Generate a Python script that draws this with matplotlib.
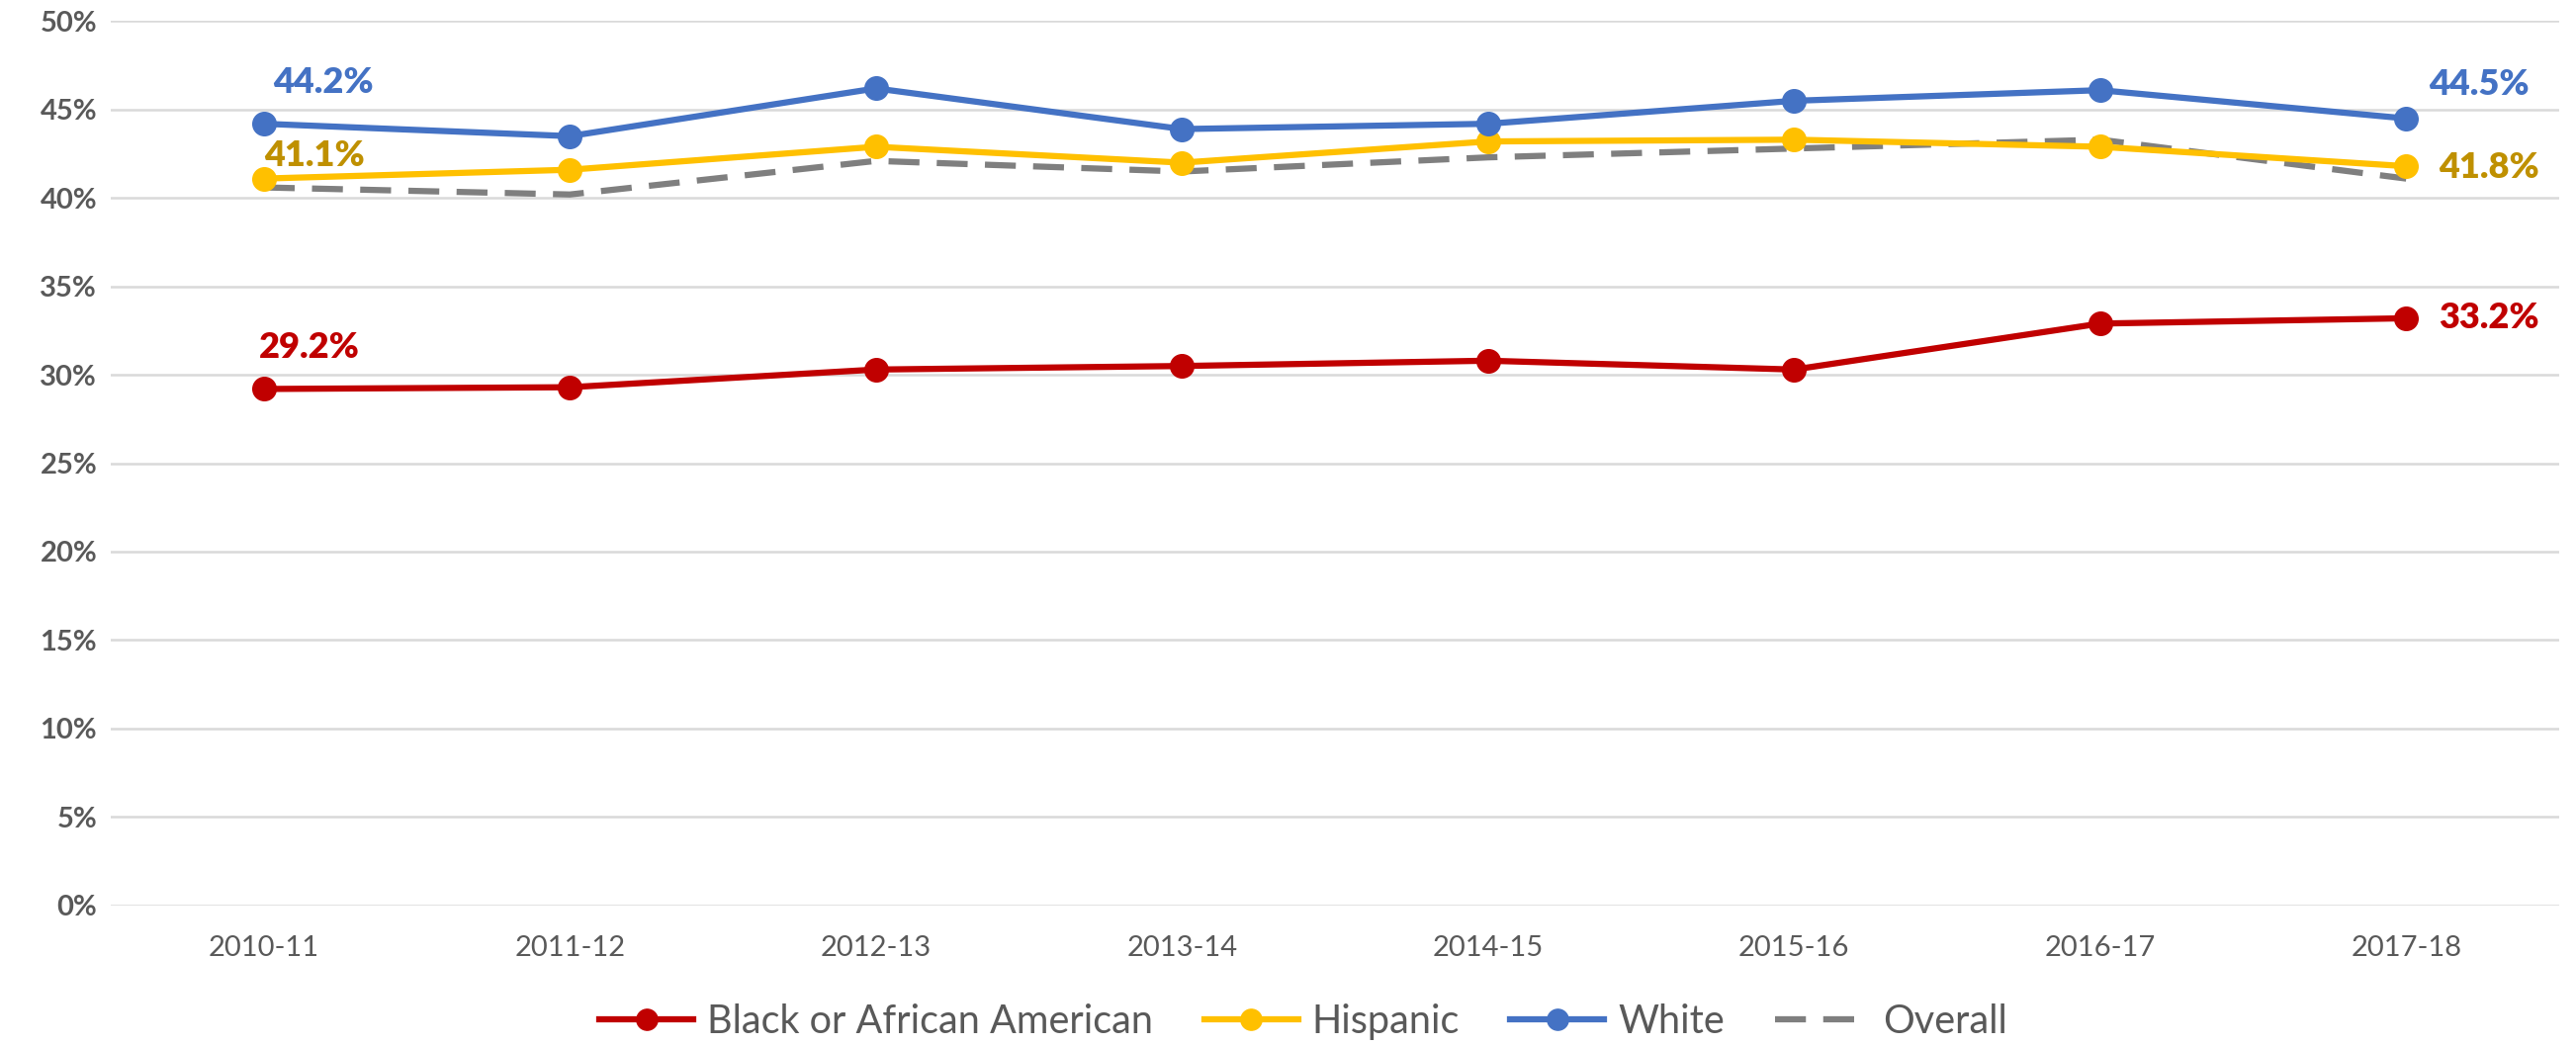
import matplotlib.pyplot as plt
from matplotlib.ticker import PercentFormatter

plt.rcParams['font.family'] = ['Lato', 'DejaVu Sans']

# School years and rates (%) per group
years = ['2010-11', '2011-12', '2012-13', '2013-14', '2014-15', '2015-16', '2016-17', '2017-18']
black = [29.2, 29.3, 30.3, 30.5, 30.8, 30.3, 32.9, 33.2]
hispanic = [41.1, 41.6, 42.9, 42.0, 43.2, 43.3, 42.9, 41.8]
white = [44.2, 43.5, 46.2, 43.9, 44.2, 45.5, 46.1, 44.5]
overall = [40.6, 40.2, 42.1, 41.5, 42.3, 42.8, 43.3, 41.1]

red = '#C00000'
gold = '#FFC000'
blue = '#4472C4'
gray = '#7F7F7F'

fig = plt.figure(figsize=(26.05, 10.57), dpi=100)
ax = fig.add_axes([0.043, 0.1337, 0.9505, 0.846])

x = range(len(years))
ax.plot(x, overall, color=gray, lw=4.5, dashes=(5, 2.8), label='Overall', zorder=2)
ax.plot(x, black, color=red, lw=4.5, marker='o', ms=17, label='Black or African American', zorder=3)
ax.plot(x, hispanic, color=gold, lw=4.5, marker='o', ms=17, label='Hispanic', zorder=3)
ax.plot(x, white, color=blue, lw=4.5, marker='o', ms=17, label='White', zorder=4)

# Data labels at the first and last year
lab = dict(textcoords='offset points', ha='center', va='center', fontsize=26, fontweight='heavy')
ax.annotate(f'{white[0]}%', (0, white[0]), xytext=(43, 30), color=blue, **lab)
ax.annotate(f'{hispanic[0]}%', (0, hispanic[0]), xytext=(37, 17), color='#BF9000', **lab)
ax.annotate(f'{black[0]}%', (0, black[0]), xytext=(33, 30), color=red, **lab)
ax.annotate(f'{white[-1]}%', (7, white[-1]), xytext=(53, 25), color=blue, **lab)
ax.annotate(f'{hispanic[-1]}%', (7, hispanic[-1]), xytext=(60, -1), color='#BF9000', **lab)
ax.annotate(f'{black[-1]}%', (7, black[-1]), xytext=(60, 0), color=red, **lab)

ax.set_xlim(-0.5, 7.5)
ax.set_ylim(0, 50)
ax.set_yticks(range(0, 51, 5))
ax.yaxis.set_major_formatter(PercentFormatter(decimals=0))
ax.set_xticks(list(x))
ax.set_xticklabels(years)
ax.grid(axis='y', color='#D9D9D9', lw=1.8)
ax.set_axisbelow(True)
for s in ax.spines.values():
    s.set_visible(False)
ax.tick_params(length=0, colors='#595959', labelsize=21)
ax.tick_params(axis='x', pad=22)
ax.tick_params(axis='y', pad=10)
for t in ax.get_yticklabels():
    t.set_fontweight('bold')

h, l = ax.get_legend_handles_labels()
order = [1, 2, 3, 0]
fig.legend([h[i] for i in order], [l[i] for i in order], loc='center', bbox_to_anchor=(0.506, 0.022),
           ncol=4, frameon=False, fontsize=28.5, labelcolor='#595959', markerscale=0.9,
           handlelength=2.4, columnspacing=1.3, handletextpad=0.35)

fig.savefig('out.png', dpi=100)
